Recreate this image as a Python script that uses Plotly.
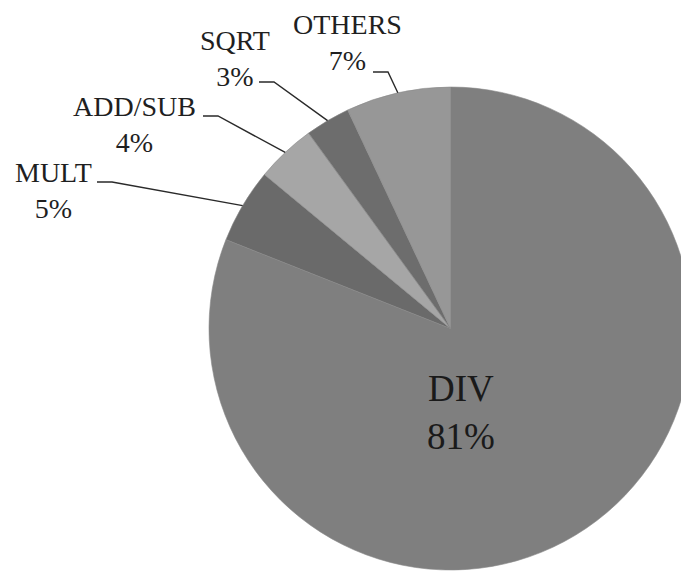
import math
import plotly.graph_objects as go

# ---- data ----
categories = ["DIV", "MULT", "ADD/SUB", "SQRT", "OTHERS"]
values = [81, 5, 4, 3, 7]
colors = ["#7f7f7f", "#6a6a6a", "#a6a6a6", "#6d6d6d", "#979797"]

# ---- layout geometry (pixels) ----
W, H = 700, 571
CX, CY, R = 450.5, 328.5, 241.5

def px(x):
    return x / W

def py(y):
    return 1 - y / H

fig = go.Figure(go.Pie(
    labels=categories,
    values=values,
    sort=False,
    direction="clockwise",
    rotation=0,
    marker=dict(colors=colors, line=dict(color="#8a8a8a", width=0.6)),
    textinfo="none",
    hoverinfo="skip",
    showlegend=False,
    domain=dict(x=[px(CX - R), px(CX + R)], y=[py(CY + R), py(CY - R)]),
))

total = sum(values)
pcts = [round(v / total * 100) for v in values]

# label block centres (pixels) for the outside labels, and the short horizontal stub start
label_pos = {
    "MULT": (53, 190, 97),
    "ADD/SUB": (134, 125, 203),
    "SQRT": (235, 58, 259),
    "OTHERS": (347, 42, 373),
}
stub_y = {"MULT": 182, "ADD/SUB": 116, "SQRT": 82, "OTHERS": 72}

font_family = "Liberation Serif, Times New Roman, serif"
annotations = []
shapes = []
cum = 0
for cat, v, p in zip(categories, values, pcts):
    mid = (cum + v / 2) / total
    cum += v
    ang = 2 * math.pi * mid  # clockwise from 12 o'clock
    ex = CX + R * math.sin(ang)
    ey = CY - R * math.cos(ang)
    if cat == "DIV":
        annotations.append(dict(
            x=px(461), y=py(412), xref="paper", yref="paper",
            text=f"{cat}<br>{p}%", showarrow=False,
            font=dict(family=font_family, size=37, color="#1a1a1a"),
            xanchor="center", yanchor="middle",
        ))
        continue
    lx, ly, sx = label_pos[cat]
    sy = stub_y[cat]
    annotations.append(dict(
        x=px(lx), y=py(ly), xref="paper", yref="paper",
        text=f"{cat}<br>{p}%", showarrow=False,
        font=dict(family=font_family, size=28, color="#1f1f1f"),
        xanchor="center", yanchor="middle",
    ))
    path = (f"M {px(sx)},{py(sy)} L {px(sx + 15)},{py(sy)} "
            f"L {px(ex)},{py(ey)}")
    shapes.append(dict(type="path", path=path, xref="paper", yref="paper",
                       line=dict(color="#2a2a2a", width=1.4)))

fig.update_layout(
    width=W, height=H,
    margin=dict(l=0, r=0, t=0, b=0),
    paper_bgcolor="white",
    plot_bgcolor="white",
    annotations=annotations,
    shapes=shapes,
)

fig.write_html(
    "out.html",
    config={"displayModeBar": False},
    post_script="document.body.style.margin='0';document.body.style.overflow='hidden';"
                "document.documentElement.style.overflow='hidden';",
)
